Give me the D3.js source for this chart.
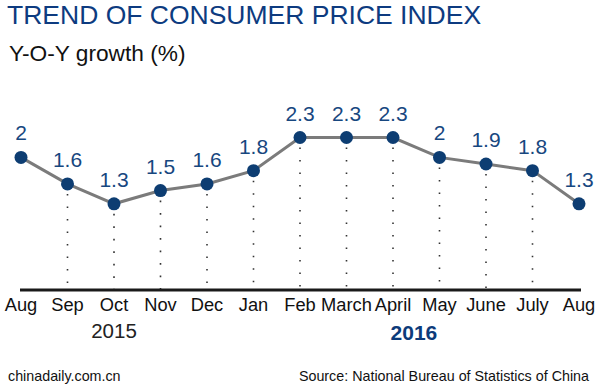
<!DOCTYPE html>
<html><head><meta charset="utf-8">
<script src="https://cdn.jsdelivr.net/npm/d3@7"></script>
<style>body{margin:0;background:#fff}svg{display:block}text{font-family:"Liberation Sans",Arial,sans-serif}</style>
</head><body><svg id="c" width="600" height="391"></svg>
<script>
const months = ["Aug","Sep","Oct","Nov","Dec","Jan","Feb","March","April","May","June","July","Aug"];
const values = [2, 1.6, 1.3, 1.5, 1.6, 1.8, 2.3, 2.3, 2.3, 2, 1.9, 1.8, 1.3];
const yearLabels = ["2015", "2016"];
const yearIndex = [2, 8.45];

const svg = d3.select("#c");
const x = d3.scaleLinear().domain([0, months.length - 1]).range([21, 579]);
const y = d3.scaleLinear().domain([0, 2.3]).range([290, 137.5]);

svg.append("text").attr("x", 7).attr("y", 24).attr("font-size", 26.5).attr("fill", "#0d3b80").text("TREND OF CONSUMER PRICE INDEX");
svg.append("text").attr("x", 9).attr("y", 60.5).attr("font-size", 22.7).attr("fill", "#111").text("Y-O-Y growth (%)");

// dotted droplines
svg.append("g").selectAll("line").data(values.slice(1, -1)).join("line")
  .attr("x1", (d, i) => x(i + 1)).attr("x2", (d, i) => x(i + 1))
  .attr("y1", d => y(d) + 10).attr("y2", y(0))
  .attr("stroke", "#333").attr("stroke-width", 1.6).attr("stroke-dasharray", "1.6,10.9");

// axis baseline
svg.append("line").attr("x1", 20).attr("x2", 581).attr("y1", y(0)).attr("y2", y(0))
  .attr("stroke", "#1a1a1a").attr("stroke-width", 3);

const line = d3.line().x((d, i) => x(i)).y(d => y(d));
svg.append("path").datum(values).attr("d", line).attr("fill", "none")
  .attr("stroke", "#7b7b7b").attr("stroke-width", 3);

svg.append("g").selectAll("circle").data(values).join("circle")
  .attr("cx", (d, i) => x(i)).attr("cy", d => y(d)).attr("r", 6.5).attr("fill", "#0d3d72");

svg.append("g").selectAll("text").data(values).join("text")
  .attr("x", (d, i) => x(i)).attr("y", d => y(d) - 17).attr("text-anchor", "middle")
  .attr("font-size", 21).attr("fill", "#17477f").text(d => d);

svg.append("g").selectAll("text").data(months).join("text")
  .attr("x", (d, i) => x(i)).attr("y", 311).attr("text-anchor", "middle")
  .attr("font-size", 18.3).attr("fill", "#111").text(d => d);

svg.append("text").attr("x", x(yearIndex[0])).attr("y", 338).attr("text-anchor", "middle")
  .attr("font-size", 20.5).attr("fill", "#222").text(yearLabels[0]);
svg.append("text").attr("x", x(yearIndex[1])).attr("y", 340).attr("text-anchor", "middle")
  .attr("font-size", 21).attr("font-weight", "bold").attr("fill", "#0d3b7a").text(yearLabels[1]);

svg.append("text").attr("x", 8).attr("y", 381).attr("font-size", 14.3).attr("fill", "#111").text("chinadaily.com.cn");
svg.append("text").attr("x", 589).attr("y", 381).attr("text-anchor", "end").attr("font-size", 14.3).attr("fill", "#111").text("Source: National Bureau of Statistics of China");
</script></body></html>
